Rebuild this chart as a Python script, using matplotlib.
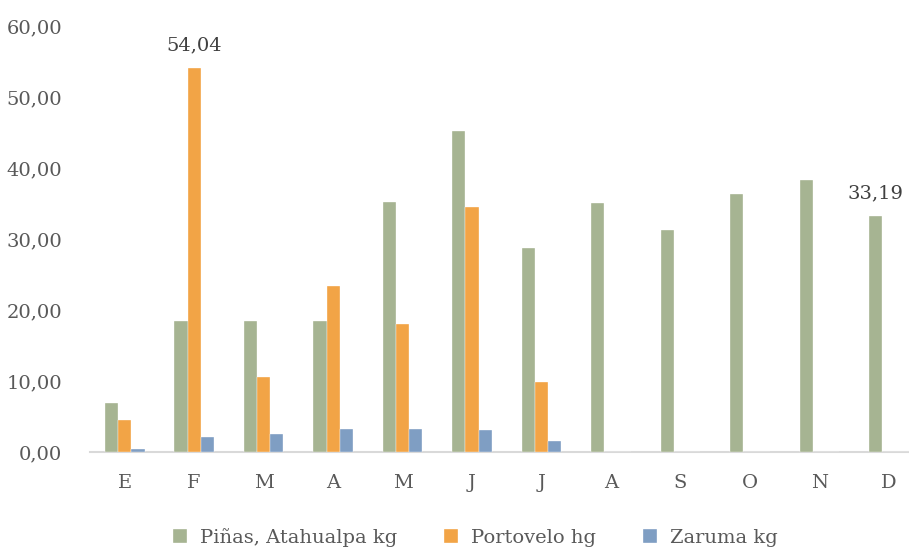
#!/usr/bin/env python

import matplotlib
matplotlib.use('Agg')
import matplotlib.pyplot as plt
import numpy as np

months = ['E', 'F', 'M', 'A', 'M', 'J', 'J', 'A', 'S', 'O', 'N', 'D']
pinas = [6.9, 18.5, 18.5, 18.5, 35.25, 45.2, 28.8, 35.0, 31.3, 36.3, 38.3, 33.19]
portovelo = [4.5, 54.04, 10.5, 23.4, 18.0, 34.5, 9.8, 0, 0, 0, 0, 0]
zaruma = [0.45, 2.1, 2.5, 3.3, 3.3, 3.05, 1.6, 0, 0, 0, 0, 0]
series_names = ['Piñas, Atahualpa kg', 'Portovelo hg', 'Zaruma kg']
colors = ['#A6B492', '#F2A446', '#7F9EC3']


def plot_chart():
    plt.rcParams['font.family'] = ['DejaVu Serif']
    fig = plt.figure(figsize=(9.09, 5.47), dpi=100)
    ax = fig.add_axes([0.099, 0.1737, 0.917, 0.7788])

    x = np.arange(len(months))
    w = 0.19
    for i, (vals, col) in enumerate(zip([pinas, portovelo, zaruma], colors)):
        ax.bar(x + (i - 1) * w, vals, w, color=col, edgecolor='white',
               linewidth=0.25, label=series_names[i], zorder=3)

    # data labels for the two highlighted values
    ax.annotate('54,04', (x[1], portovelo[1]), xytext=(0, 10),
                textcoords='offset points', ha='center', va='bottom',
                fontsize=14, color='#404040')
    ax.annotate('33,19', (x[11] - w, pinas[11]), xytext=(0, 10),
                textcoords='offset points', ha='center', va='bottom',
                fontsize=14, color='#404040')

    ax.set_xlim(-0.5, 11.5)
    ax.set_ylim(0, 60)
    ax.set_yticks(np.arange(0, 61, 10))
    ax.set_yticklabels(['%d,00' % v for v in range(0, 61, 10)])
    ax.set_xticks(x)
    ax.set_xticklabels(months)

    for s in ['top', 'right', 'left']:
        ax.spines[s].set_visible(False)
    ax.spines['bottom'].set_color('#D9D9D9')
    ax.spines['bottom'].set_linewidth(1.5)
    ax.spines['bottom'].set_zorder(2)
    ax.tick_params(axis='both', length=0, labelsize=14, labelcolor='#595959')
    ax.tick_params(axis='y', pad=20)
    ax.tick_params(axis='x', pad=16)

    fig.legend(loc='center', bbox_to_anchor=(0.523, 0.018), ncol=3, frameon=False,
               fontsize=14, handlelength=0.7, handleheight=0.7,
               handletextpad=0.7, columnspacing=2.4, labelcolor='#595959')

    fig.savefig('out.png', dpi=100)


if __name__ == '__main__':
    plot_chart()
